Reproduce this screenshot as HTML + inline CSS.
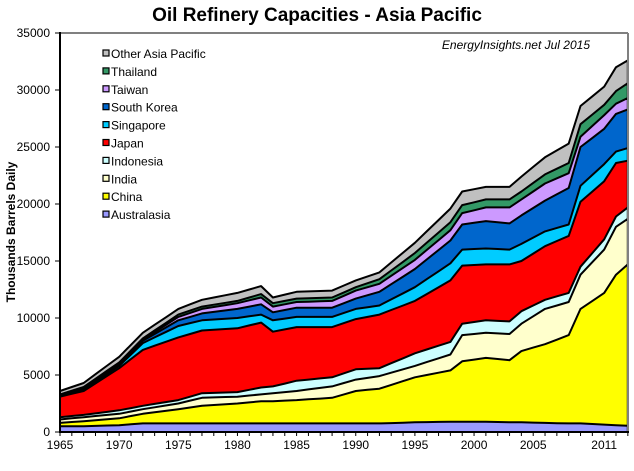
<!DOCTYPE html>
<html><head><meta charset="utf-8"><style>
body{margin:0;background:#fff;}
svg text{font-family:"Liberation Sans",Arial,sans-serif;}
</style></head><body>
<svg id="s" width="634" height="466" xmlns="http://www.w3.org/2000/svg">
<text x="317" y="21" text-anchor="middle" font-size="19" font-weight="bold">Oil Refinery Capacities - Asia Pacific</text>
<text transform="translate(15,232) rotate(-90)" text-anchor="middle" font-size="12" font-weight="bold">Thousands Barrels Daily</text>
<text x="590" y="49" text-anchor="end" font-size="12" font-style="italic">EnergyInsights.net  Jul 2015</text>
<g id="areas"></g>
<line x1="60" y1="33" x2="628" y2="33" stroke="#808080" stroke-width="2"/>
<line x1="628" y1="33" x2="628" y2="432" stroke="#808080" stroke-width="2"/>
<line x1="60" y1="32" x2="60" y2="433" stroke="#000" stroke-width="2"/>
<line x1="59" y1="432" x2="629" y2="432" stroke="#000" stroke-width="2"/>
<g id="ticks" font-size="12"></g>
<g id="leg" font-size="12"></g>
</svg>
<script>
var cols=["#9999ff","#ffff00","#ffffcc","#ccffff","#ff0000","#00ccff","#0066cc","#cc99ff","#339966","#c0c0c0"];
var names=["Australasia","China","India","Indonesia","Japan","Singapore","South Korea","Taiwan","Thailand","Other Asia Pacific"];
var K={1965:[500,800,1100,1300,3100,3150,3200,3250,3300,3600],
1967:[500,950,1300,1500,3600,3700,3800,3850,3950,4300],
1970:[600,1200,1600,1900,5600,5800,5900,6000,6100,6600],
1972:[750,1600,2000,2300,7200,7800,8000,8100,8200,8700],
1975:[750,2000,2500,2800,8300,9300,9800,10100,10300,10800],
1977:[750,2300,3000,3400,8900,9800,10400,10800,11000,11600],
1980:[750,2500,3100,3500,9100,10000,10800,11300,11500,12200],
1982:[750,2700,3300,3900,9600,10300,11200,11800,12100,12800],
1983:[750,2700,3400,4000,8800,9800,10500,11000,11300,11800],
1985:[750,2800,3600,4500,9200,10100,10900,11400,11700,12300],
1988:[750,3000,4000,4800,9200,10100,10900,11500,11800,12400],
1990:[750,3600,4600,5500,9900,10800,11700,12400,12700,13300],
1992:[750,3800,4900,5600,10300,11100,12300,13000,13400,14000],
1995:[850,4800,5800,6900,11500,12700,14300,15100,15700,16600],
1998:[900,5400,6800,7900,13300,14800,16800,17700,18400,19600],
1999:[900,6200,8500,9500,14600,16000,18200,19200,19900,21100],
2001:[900,6500,8700,9800,14700,16100,18500,19700,20400,21500],
2003:[850,6300,8600,9700,14700,16000,18300,19700,20400,21500],
2004:[850,7100,9500,10600,15000,16500,19000,20400,21100,22400],
2006:[800,7700,10800,11600,16300,17600,20300,21800,22600,24100],
2008:[750,8500,11400,12200,17200,18200,21400,22700,23600,25300],
2009:[750,10800,13800,14500,20200,21600,25000,25900,27000,28600],
2011:[650,12200,16000,16900,22000,23500,26600,27800,28700,30300],
2012:[600,13800,18000,18900,23600,24600,27900,28800,29900,32000],
2013:[550,14700,18700,19700,23800,24900,28300,29300,30600,32600]};
var ks=Object.keys(K).map(Number).sort(function(a,b){return a-b});
function val(y,i){for(var j=0;j<ks.length-1;j++){var a=ks[j],b=ks[j+1];if(y>=a&&y<=b){var t=(y-a)/(b-a);return K[a][i]+(K[b][i]-K[a][i])*t;}}return K[2013][i];}
function X(y){return 60+(y-1965)*11.83;}function Y(v){return 432-v*0.0114;}
var NS="http://www.w3.org/2000/svg",g=document.getElementById("areas");
for(var i=9;i>=0;i--){var d="M60,432";for(var y=1965;y<=2013;y++)d+=" L"+X(y).toFixed(1)+","+Y(val(y,i)).toFixed(1);d+=" L"+X(2013).toFixed(1)+",432 Z";
var p=document.createElementNS(NS,"path");p.setAttribute("d",d);p.setAttribute("fill",cols[i]);p.setAttribute("stroke","#000");p.setAttribute("stroke-width","2");p.setAttribute("stroke-linejoin","round");g.appendChild(p);}
var t=document.getElementById("ticks"),h="";
for(var v=0;v<=35000;v+=5000){var yy=Y(v);h+='<line x1="55" y1="'+yy+'" x2="60" y2="'+yy+'" stroke="#000"/><text x="50" y="'+(yy+4)+'" text-anchor="end">'+v+'</text>';}
for(var y=1965;y<=2013;y++){h+='<line x1="'+X(y)+'" y1="432" x2="'+X(y)+'" y2="436" stroke="#000"/>';}
[1965,1970,1975,1980,1985,1990,1995,2000,2005,2011].forEach(function(y){h+='<text x="'+X(y)+'" y="449" text-anchor="middle">'+y+'</text>';});
t.innerHTML=h;
var l=document.getElementById("leg"),s="";
for(var k=0;k<10;k++){var ly=54+k*17.9,i=9-k;s+='<rect x="103" y="'+(ly-4)+'" width="6" height="6" fill="'+cols[i]+'" stroke="#000" stroke-width="1.2"/><text x="111" y="'+(ly+4)+'">'+names[i]+'</text>';}
l.innerHTML=s;
</script>
</body></html>
